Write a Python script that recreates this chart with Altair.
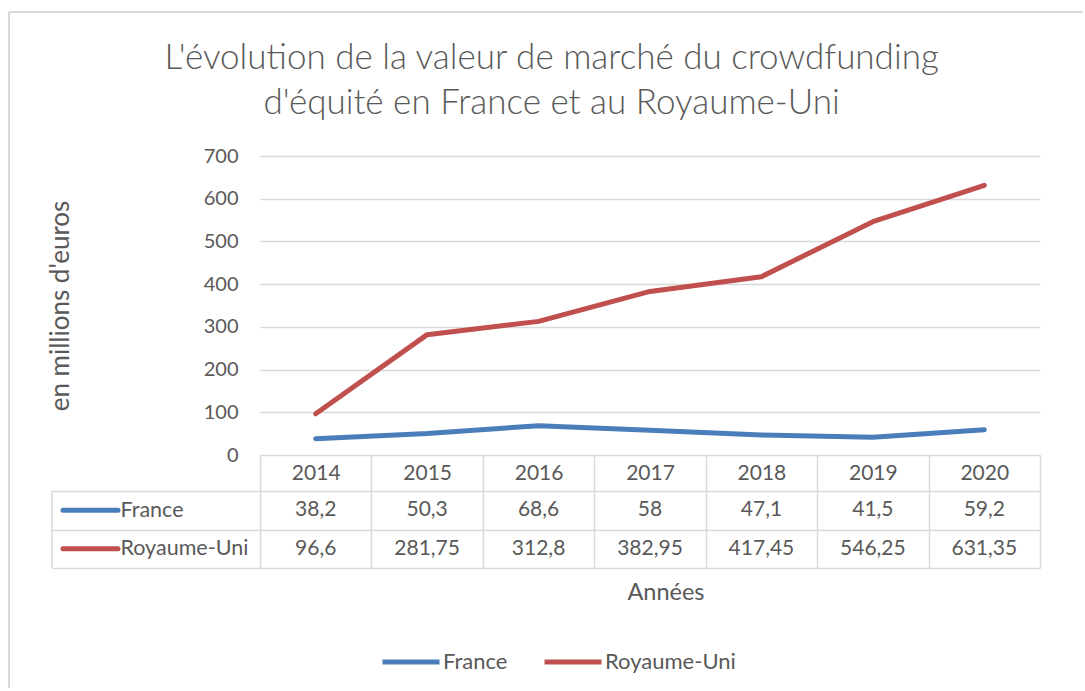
import altair as alt
import pandas as pd

# ---- data ----
years = ["2014", "2015", "2016", "2017", "2018", "2019", "2020"]
series_names = ["France", "Royaume-Uni"]
france = [38.2, 50.3, 68.6, 58, 47.1, 41.5, 59.2]
royaume_uni = [96.6, 281.75, 312.8, 382.95, 417.45, 546.25, 631.35]
y_ticks = [0, 100, 200, 300, 400, 500, 600, 700]
title_lines = ["L'évolution de la valeur de marché du crowdfunding",
               "d'équité en France et au Royaume-Uni"]
y_title = "en millions d'euros"
x_title = "Années"
colors = ["#4a7ebb", "#c0504d"]

rows = []
for name, vals in zip(series_names, [france, royaume_uni]):
    for yr, v in zip(years, vals):
        rows.append({"Year": yr, "Series": name, "Value": v,
                     "Label": f"{v:g}".replace(".", ",")})
df = pd.DataFrame(rows)
series_df = pd.DataFrame({"Series": series_names})
one_row = alt.InlineData(values=[{"k": 1}])

FONT = "Lato"
GRAY = "#595959"
GRID = "#d9d9d9"
GW = 1.5

color = alt.Color(
    "Series:N",
    scale=alt.Scale(domain=series_names, range=colors),
    legend=alt.Legend(
        title=None, orient="none", legendX=120, legendY=475, direction="horizontal",
        symbolType="stroke", symbolStrokeWidth=5, symbolSize=3249,
        labelFont=FONT, labelFontSize=22, labelColor=GRAY, labelOffset=1,
        columnPadding=26, padding=0,
    ),
)

# ---- line chart ----
lines = alt.Chart(df).mark_line(strokeWidth=5, strokeCap="round", strokeJoin="round").encode(
    x=alt.X("Year:N", sort=years, scale=alt.Scale(type="point", padding=0.5), axis=None),
    y=alt.Y(
        "Value:Q",
        scale=alt.Scale(domain=[0, 700], nice=False),
        axis=alt.Axis(
            values=y_ticks, title=y_title, grid=True, gridColor=GRID, gridWidth=GW,
            domain=False, ticks=False, labelPadding=22, labelFont=FONT,
            labelFontSize=20, labelColor=GRAY, titleFont=FONT, titleFontSize=26,
            titleFontWeight="normal", titleColor=GRAY, titlePadding=130,
        ),
    ),
    color=color,
).properties(
    width=780, height=299,
    title=alt.TitleParams(
        title_lines, font=FONT, fontSize=35, fontWeight=300, color=GRAY,
        anchor="middle", frame="bounds", offset=25, lineHeight=45, dx=8,
    ),
)

# ---- data table ----
cells = alt.Chart(df).mark_text(font=FONT, fontSize=21, color=GRAY).encode(
    x=alt.X(
        "Year:N", sort=years, scale=alt.Scale(paddingInner=0, paddingOuter=0),
        axis=alt.Axis(
            orient="top", title=None, labelAngle=0, labelFont=FONT, labelFontSize=21,
            labelColor=GRAY, labelBaseline="middle", labelPadding=-18,
            ticks=True, tickSize=36, tickColor=GRID, tickWidth=GW, tickBand="extent",
            grid=True, gridColor=GRID, gridWidth=GW, domain=False,
        ),
    ),
    y=alt.Y(
        "Series:N", sort=series_names, scale=alt.Scale(paddingInner=0, paddingOuter=0),
        axis=alt.Axis(
            title=None, labelAlign="left", labelPadding=-68, labelFont=FONT,
            labelFontSize=21.5, labelColor=GRAY, ticks=True, tickSize=208,
            tickColor=GRID, tickWidth=GW, tickBand="extent",
            grid=True, gridColor=GRID, gridWidth=GW, domain=False,
        ),
    ),
    text="Label:N",
)

swatches = alt.Chart(series_df).mark_rule(strokeWidth=5, strokeCap="round").encode(
    x=alt.value(-197), x2=alt.value(-142),
    y=alt.Y("Series:N", sort=series_names, bandPosition=0.5),
    color=color,
)

left_border = alt.Chart(one_row).mark_rule(color=GRID, strokeWidth=GW).encode(
    x=alt.value(-208), y=alt.value(0), y2=alt.value(77)
)

table = alt.layer(cells, swatches, left_border).properties(
    width=780, height=77,
    title=alt.TitleParams(
        x_title, orient="bottom", font=FONT, fontSize=23.5, fontWeight="normal",
        color=GRAY, anchor="middle", frame="group", offset=12, dx=16,
    ),
)

# ---- outer frame (light border of the chart area) ----
frame_top = alt.Chart(one_row).mark_rule(color=GRID, strokeWidth=2).encode(
    x=alt.value(-251), x2=alt.value(823), y=alt.value(-592)
)
frame_left = alt.Chart(one_row).mark_rule(color=GRID, strokeWidth=2).encode(
    x=alt.value(-251), y=alt.value(-592), y2=alt.value(84)
)
frame = alt.layer(frame_top, frame_left).properties(width=780, height=1)

chart = alt.vconcat(lines, table, frame, spacing=36, bounds="flush").properties(
    padding={"left": 8, "top": 11, "right": 0, "bottom": 0},
    background="white",
).configure_view(strokeWidth=0)

chart.save("out.html", embed_options={"renderer": "svg", "actions": False})
